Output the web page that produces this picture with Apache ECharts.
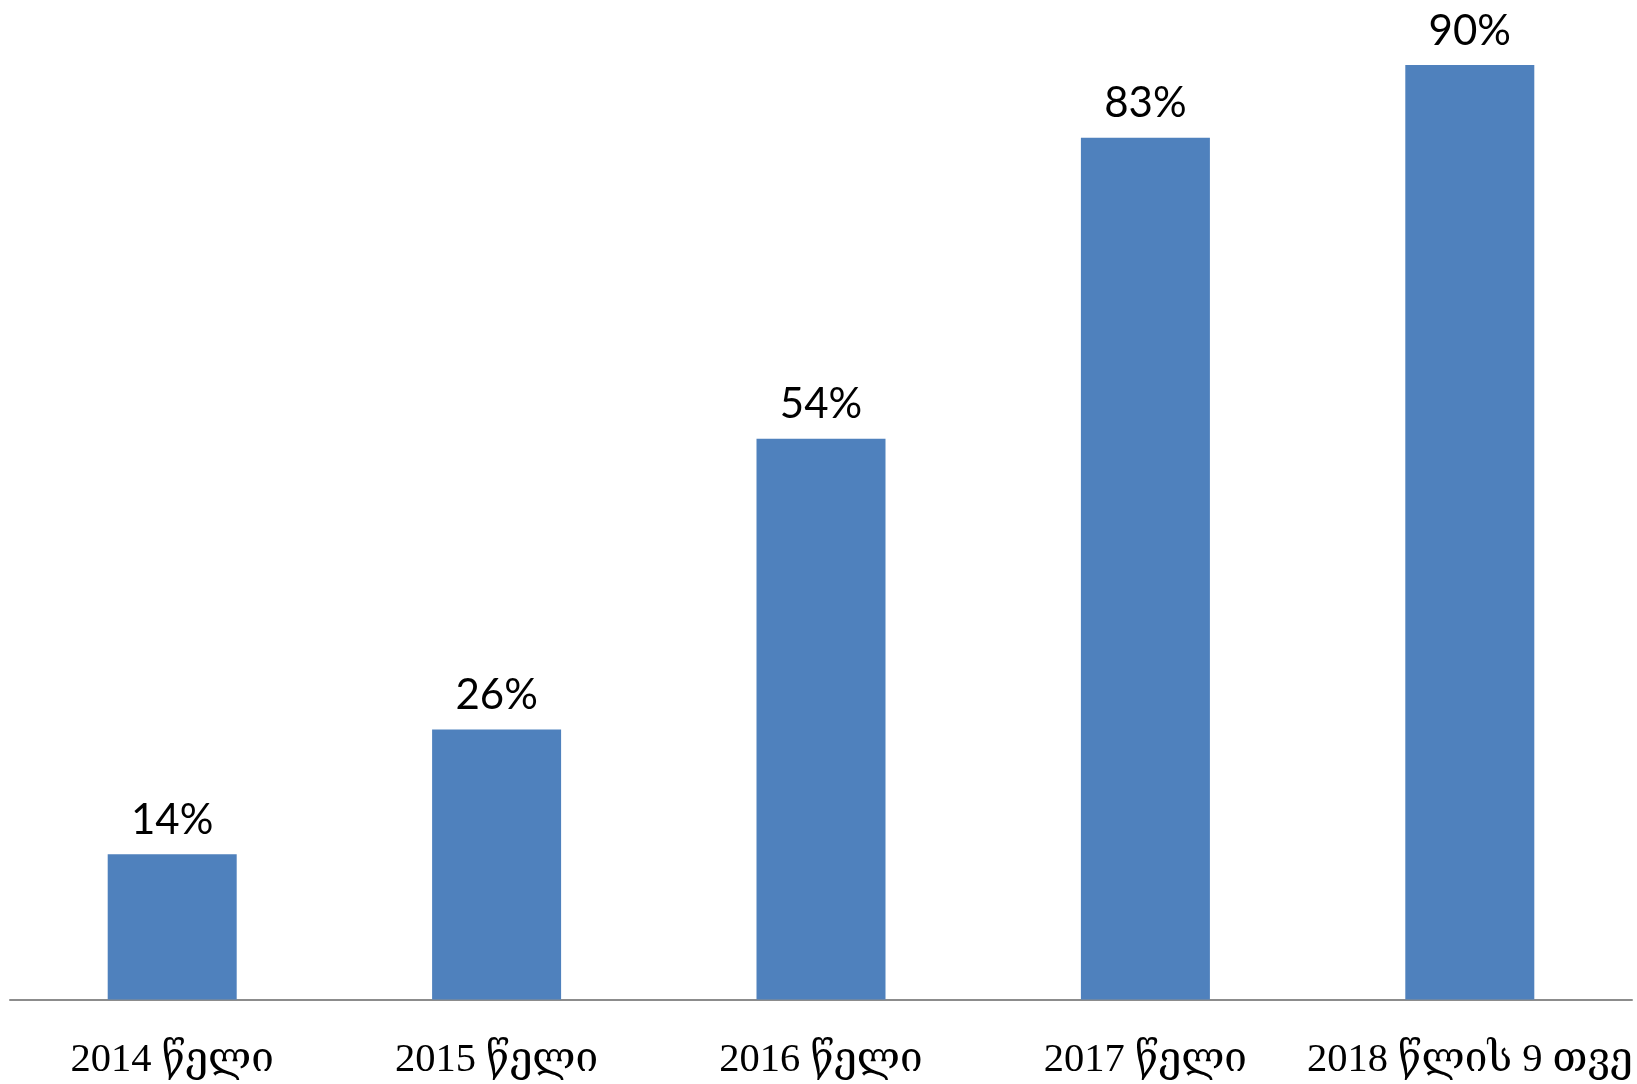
<!DOCTYPE html>
<html>
<head>
<meta charset="utf-8">
<script src="https://cdn.jsdelivr.net/npm/echarts@6/dist/echarts.min.js"></script>
<style>html,body{margin:0;padding:0;background:#fff}#c{width:1637px;height:1084px}</style>
</head>
<body>
<div id="c"></div>
<script>
const categories = ['2014 წელი', '2015 წელი', '2016 წელი', '2017 წელი', '2018 წლის 9 თვე'];
const values = [14, 26, 54, 83, 90];

const chart = echarts.init(document.getElementById('c'));
chart.setOption({
  animation: false,
  grid: { left: 10, right: 5, top: 65, bottom: 84.5, containLabel: false },
  xAxis: {
    type: 'category',
    data: categories,
    axisLine: { lineStyle: { color: '#8c8c8c', width: 2 } },
    axisTick: { show: false },
    axisLabel: {
      interval: 0,
      margin: 40,
      fontSize: 40.5,
      color: '#000',
      fontFamily: '"Liberation Serif", "DejaVu Serif", serif'
    }
  },
  yAxis: {
    type: 'value',
    min: 0,
    max: 90,
    show: false,
    splitLine: { show: false }
  },
  series: [{
    type: 'bar',
    data: values,
    barWidth: 129,
    itemStyle: { color: '#4F81BD' },
    label: {
      show: true,
      position: 'top',
      distance: 13,
      formatter: '{c}%',
      fontSize: 42,
      color: '#000',
      fontFamily: 'Lato, "Liberation Sans", sans-serif'
    }
  }]
});
</script>
</body>
</html>
